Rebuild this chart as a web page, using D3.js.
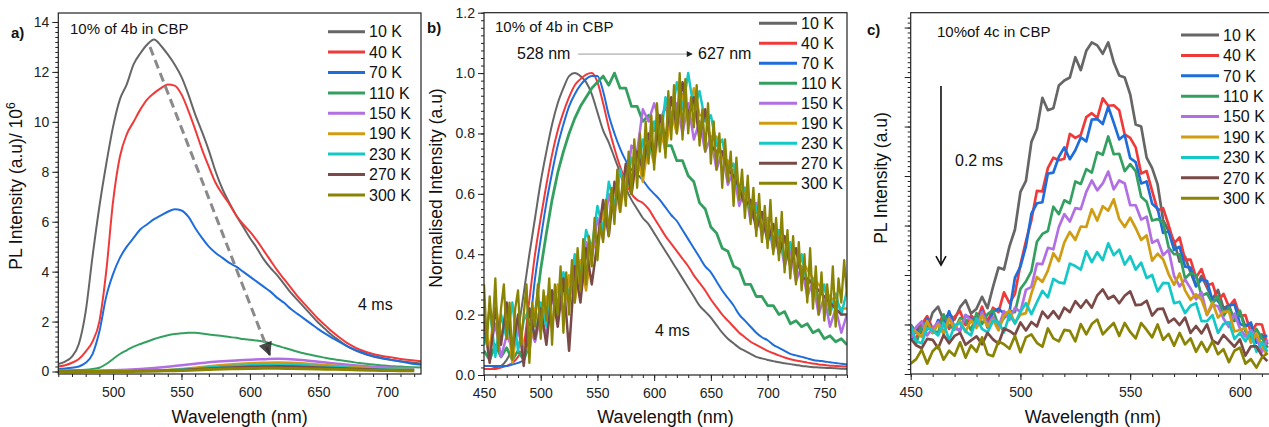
<!DOCTYPE html>
<html>
<head>
<meta charset="utf-8">
<script src="https://cdn.jsdelivr.net/npm/d3@7"></script>
<style>
  body { margin: 0; background: #fff; }
  svg { font-family: "Liberation Sans", Arial, sans-serif; }
</style>
</head>
<body>
<svg id="fig" width="1269" height="427"></svg>
<script>
// legend / series names and colours (same for every panel)
const temps = ["10 K", "40 K", "70 K", "110 K", "150 K", "190 K", "230 K", "270 K", "300 K"];
const colors = ["#666666", "#f03a3a", "#1f6ddb", "#34a060", "#b26ee3", "#d09c12", "#14c8c8", "#7a4a48", "#8a8405"];

// ---- panel a : 10% of 4b in CBP, PL intensity / 1e6 ----
const wlA = [460,465,470,475,480,485,490,495,500,505,510,515,520,525,530,535,540,545,550,555,
  560,565,570,575,580,585,590,595,600,605,610,615,620,625,630,635,640,645,650,655,
  660,665,670,675,680,685,690,695,700,705,710,715,720,725];
const wlA10 = [460,470,480,490,500,510,520,530,540,550,560,570,580,590,600,610,620,630,640,650,
  660,670,680,690,700,710,720];
const a10 = [.3,.4,.6,1.1,2.4,4.6,6.6,8.3,9.8,10.9,
  11.5,12.3,12.75,13.1,13.3,13.05,12.7,12.3,11.8,11.1,
  10.3,9.6,8.85,8.0,7.3,6.75,6.25,5.8,5.35,4.95,
  4.5,4.15,3.85,3.5,3.15,2.85,2.55,2.25,1.95,1.7,
  1.45,1.25,1.05,.9,.78,.68,.6,.54,.49,.45,
  .41,.38,.35,.32];
const a40 = [.2,.25,.35,.5,.8,1.2,2.0,4.0,6.8,8.6,
  9.5,10.0,10.5,10.9,11.15,11.35,11.5,11.45,11.1,10.45,
  9.7,8.9,8.2,7.55,7.1,6.7,6.25,5.9,5.6,5.25,
  4.85,4.45,4.05,3.7,3.35,3.0,2.7,2.4,2.1,1.85,
  1.6,1.38,1.18,1.02,.88,.78,.7,.64,.59,.55,
  .5,.47,.44,.41];
const a70 = [.1,.12,.15,.2,.35,.7,1.6,3.0,3.9,4.55,
  5.0,5.35,5.7,5.9,6.1,6.25,6.4,6.5,6.45,6.2,
  5.75,5.35,5.0,4.75,4.55,4.35,4.2,4.0,3.8,3.6,
  3.4,3.2,2.95,2.75,2.5,2.3,2.1,1.9,1.7,1.52,
  1.35,1.2,1.05,.92,.8,.7,.62,.56,.5,.45,
  .4,.35,.3,.27];
const a110 = [.05,.05,.05,.06,.07,.1,.15,.3,.5,.7,
  .85,1.0,1.1,1.2,1.3,1.38,1.45,1.5,1.53,1.55,
  1.55,1.52,1.48,1.45,1.42,1.38,1.35,1.3,1.27,1.24,
  1.2,1.12,1.03,.95,.87,.79,.72,.66,.6,.55,
  .5,.46,.42,.38,.34,.31,.28,.25,.23,.21,
  .2,.18,.17,.16];
const a150 = [.02,.03,.02,.04,.05,.07,.1,.14,.19,.25,.31,.37,.41,.44,.47,.49,.51,.49,.45,.39,.33,.28,.23,.19,.16,.14,.12];
const a190 = [0,.01,0,.01,.02,.02,.03,.04,.06,.1,.15,.21,.26,.3,.33,.35,.36,.35,.32,.28,.24,.2,.16,.13,.1,.08,.07];
const a230 = [0,0,.01,0,.01,.02,.02,.03,.05,.08,.12,.16,.2,.23,.25,.27,.28,.27,.25,.22,.19,.16,.13,.1,.08,.07,.06];
const a270 = [0,0,0,.01,0,.01,.02,.02,.04,.06,.09,.12,.15,.17,.19,.2,.21,.2,.18,.16,.14,.12,.1,.08,.06,.05,.04];
const a300 = [0,-.01,0,0,.01,0,.01,.02,.03,.04,.06,.08,.1,.11,.12,.13,.13,.12,.11,.1,.09,.08,.06,.05,.04,.03,.03];

// ---- panel b : normalised intensity ----
const wlB = [450,455,460,465,470,475,480,485,490,495,500,505,510,515,520,525,530,535,540,545,
  550,555,560,565,570,575,580,585,590,595,600,605,610,615,620,625,630,635,640,645,
  650,655,660,665,670,675,680,685,690,695,700,705,710,715,720,725,730,735,740,745,
  750,755,760,765,770];
const wlB2 = [450,452.5,455,457.5,460,462.5,465,467.5,470,472.5,
  475,477.5,480,482.5,485,487.5,490,492.5,495,497.5,
  500,502.5,505,507.5,510,512.5,515,517.5,520,522.5,
  525,527.5,530,532.5,535,537.5,540,542.5,545,547.5,
  550,552.5,555,557.5,560,562.5,565,567.5,570,572.5,
  575,577.5,580,582.5,585,587.5,590,592.5,595,597.5,
  600,602.5,605,607.5,610,612.5,615,617.5,620,622.5,
  625,627.5,630,632.5,635,637.5,640,642.5,645,647.5,
  650,652.5,655,657.5,660,662.5,665,667.5,670,672.5,
  675,677.5,680,682.5,685,687.5,690,692.5,695,697.5,
  700,702.5,705,707.5,710,712.5,715,717.5,720,722.5,
  725,727.5,730,732.5,735,737.5,740,742.5,745,747.5,
  750,752.5,755,757.5,760,762.5,765,767.5,770];
const b10 = [.02,.02,.025,.03,.05,.09,.15,.27,.4,.52,
  .64,.74,.83,.9,.95,.99,1.0,.99,.97,.93,
  .87,.81,.77,.72,.67,.62,.58,.55,.52,.5,
  .47,.44,.41,.38,.35,.32,.29,.26,.23,.21,
  .19,.165,.14,.12,.105,.09,.08,.07,.06,.055,
  .05,.046,.042,.039,.036,.033,.03,.028,.026,.025,
  .024,.023,.022,.021,.02];
const b40 = [.02,.02,.02,.025,.03,.04,.06,.1,.25,.4,
  .52,.63,.73,.81,.87,.92,.96,.98,.995,1.0,
  .97,.9,.82,.75,.69,.64,.6,.58,.57,.55,
  .52,.49,.46,.435,.41,.385,.36,.33,.305,.28,
  .25,.225,.2,.18,.16,.14,.125,.11,.1,.09,
  .08,.072,.065,.058,.052,.048,.045,.041,.038,.035,
  .033,.031,.03,.029,.028];
const b70 = [.03,.03,.03,.03,.03,.035,.04,.05,.15,.32,
  .45,.57,.67,.76,.83,.89,.93,.96,.98,.99,
  .99,.94,.86,.8,.75,.71,.68,.665,.645,.62,
  .6,.58,.555,.53,.51,.48,.45,.42,.39,.36,
  .34,.31,.28,.255,.23,.2,.18,.16,.14,.125,
  .115,.1,.09,.08,.07,.065,.06,.055,.05,.047,
  .045,.042,.04,.037,.035];
const b110 = [.08,.05,.1,.06,.09,.05,.08,.05,.1,.2,
  .35,.47,.58,.67,.74,.8,.85,.89,.92,.95,
  .97,.99,.96,1.0,.95,.95,.89,.89,.84,.86,
  .81,.81,.76,.76,.71,.71,.66,.64,.57,.55,
  .49,.47,.42,.41,.36,.35,.3,.3,.26,.26,
  .23,.23,.2,.21,.17,.18,.16,.17,.14,.15,
  .12,.13,.11,.12,.1];
const b150 = [.14,.08,.17,.06,.13,.09,.15,.07,.16,.11,
  .2,.13,.26,.18,.32,.25,.38,.31,.44,.38,
  .52,.45,.6,.53,.68,.61,.76,.74,.88,.84,
  .9,.84,.89,.82,.9,.8,.9,.78,.84,.74,
  .79,.68,.74,.63,.68,.56,.62,.51,.57,.46,
  .52,.41,.47,.36,.42,.31,.36,.26,.31,.2,
  .26,.16,.22,.14,.2];
const b190 = [.2,.08,.24,.12,.22,.04,.18,.1,.08,.22,
  .14,.26,.16,.3,.2,.33,.24,.38,.28,.43,
  .42,.55,.48,.63,.54,.67,.6,.73,.64,.77,
  .7,.83,.74,.87,.8,.93,.84,.95,.86,.86,
  .78,.79,.72,.71,.64,.63,.6,.57,.54,.52,
  .5,.48,.46,.44,.42,.4,.38,.35,.32,.3,
  .28,.26,.24,.22,.22];
const b230 = [.1,.22,.06,.2,.12,.24,.08,.18,.22,.12,
  .24,.16,.28,.2,.34,.26,.4,.32,.48,.42,
  .56,.48,.64,.56,.68,.6,.72,.66,.78,.72,
  .84,.76,.92,.84,.97,.88,1.0,.88,.94,.84,
  .86,.76,.78,.68,.7,.6,.62,.54,.56,.48,
  .5,.43,.48,.38,.44,.34,.4,.3,.32,.25,
  .3,.2,.27,.2,.28];
const b270 = [.18,.04,.22,.1,.24,.08,.2,.03,.22,.12,
  .22,.1,.28,.16,.32,.08,.36,.24,.42,.3,
  .44,.58,.46,.64,.56,.7,.6,.74,.68,.8,
  .72,.86,.78,.92,.82,.97,.86,.92,.78,.88,
  .76,.74,.74,.68,.66,.62,.56,.58,.48,.54,
  .44,.5,.4,.46,.36,.42,.32,.32,.3,.28,
  .26,.24,.22,.2,.2];
const b300 = [.3,.1,.26,.14,.32,.08,.22,.3,.12,.24,
  .05,.22,.28,.1,.2,.3,.04,.24,.16,.3,
  .12,.28,.18,.32,.1,.3,.2,.36,.14,.34,
  .2,.38,.24,.42,.28,.45,.3,.46,.36,.52,
  .38,.5,.44,.58,.46,.62,.5,.68,.54,.66,
  .56,.74,.6,.78,.62,.8,.66,.84,.7,.86,
  .68,.9,.74,.86,.72,.94,.78,.96,.8,1.0,
  .78,.98,.8,.92,.82,.96,.76,.88,.74,.9,
  .7,.84,.68,.8,.62,.78,.64,.74,.56,.72,
  .58,.68,.52,.66,.5,.62,.46,.6,.44,.56,
  .42,.58,.4,.52,.38,.54,.34,.48,.32,.46,
  .3,.44,.28,.4,.24,.42,.22,.36,.2,.34,
  .18,.3,.2,.36,.16,.32,.24,.38,.26];

// ---- panel c : 10% of 4c in CBP, PL intensity (a.u) ----
const wlC = [450,452.5,455,457.5,460,462.5,465,467.5,470,472.5,
  475,477.5,480,482.5,485,487.5,490,492.5,495,497.5,
  500,502.5,505,507.5,510,512.5,515,517.5,520,522.5,
  525,527.5,530,532.5,535,537.5,540,542.5,545,547.5,
  550,552.5,555,557.5,560,562.5,565,567.5,570,572.5,
  575,577.5,580,582.5,585,587.5,590,592.5,595,597.5,
  600,602.5,605,607.5,610,612.5];
const c10 = [1.0,.84,1.05,.9,1.24,1.36,1.08,1.22,1.1,1.35,
  1.49,1.22,1.32,1.56,1.33,1.76,2.15,2.11,2.58,2.92,
  3.68,3.9,4.69,4.95,5.58,5.33,5.37,5.83,5.93,5.99,
  6.4,6.14,6.53,6.7,6.64,6.47,6.7,6.3,6.03,5.99,
  5.65,5.04,5.0,4.37,4.16,3.83,3.11,2.89,2.68,2.27,
  2.37,2.05,1.78,1.98,1.75,1.51,1.7,1.33,1.39,1.07,
  1.26,.96,1.01,.67,.8,.53];
const c40 = [.8,.71,1.0,1.17,.91,1.0,1.2,.91,1.16,1.27,
  .99,1.18,1.08,1.36,1.05,1.34,1.25,1.65,1.43,1.62,
  2.21,2.68,3.11,3.7,3.69,4.16,4.37,4.32,4.35,4.85,
  4.77,4.83,5.19,5.27,5.17,5.57,5.42,5.43,5.33,4.84,
  4.77,4.58,4.05,4.1,3.7,3.31,3.35,3.01,2.64,2.76,
  2.31,2.31,1.95,2.12,1.79,1.83,1.47,1.62,1.36,1.5,
  1.17,1.19,.84,1.01,1.0,.6];
const c70 = [.68,.89,.82,1.12,.83,1.09,.97,1.27,.93,.88,
  1.19,1.12,1.01,1.27,.94,1.26,1.32,1.22,1.25,1.95,
  2.17,2.58,3.24,3.45,3.47,4.05,4.07,4.39,4.58,4.34,
  4.52,4.78,4.7,5.14,5.15,5.05,5.4,5.08,4.74,4.83,
  4.36,4.28,3.85,3.89,3.44,3.34,2.85,2.88,2.51,2.57,
  2.17,2.15,1.77,1.91,1.88,1.48,1.5,1.25,1.38,1.41,
  1.01,.97,1.04,.63,.76,.77];
const c110 = [.93,.62,.96,1.04,.89,.83,1.2,.98,.9,1.13,
  1.1,.88,1.23,1.01,1.21,1.29,.98,1.13,1.28,1.25,
  1.72,1.87,2.08,2.67,2.83,2.89,3.38,3.23,3.51,3.45,
  3.89,3.84,4.14,4.07,4.48,4.43,4.8,4.44,4.45,4.1,
  4.24,4.1,3.58,3.48,3.1,3.13,3.06,2.56,2.42,2.42,
  1.93,2.04,2.0,1.58,1.63,1.42,1.58,1.17,1.34,1.1,
  1.28,.86,.72,.91,.73,.53];
const c150 = [.72,.95,1.06,.78,.92,1.05,.85,1.13,.97,.86,
  1.19,1.08,.95,1.25,.99,1.15,.95,1.27,1.09,1.34,
  1.25,1.7,1.76,2.23,2.22,2.55,2.52,2.97,3.23,3.08,
  3.35,3.33,3.68,3.91,3.71,3.85,4.09,3.73,3.91,3.85,
  3.41,3.41,3.12,3.18,2.65,2.71,2.4,2.51,1.98,1.77,
  1.91,1.73,1.51,1.65,1.19,1.4,1.37,1.12,.95,1.22,
  .92,.76,.89,.75,.44,.7];
const c190 = [.93,.85,.75,1.07,.83,1.0,.81,1.11,.92,1.08,
  .85,1.09,.93,1.18,.96,1.1,.88,1.17,1.28,1.03,
  1.2,1.23,1.63,1.96,1.86,2.09,2.44,2.28,2.66,2.87,
  2.71,2.98,2.97,3.33,3.1,3.39,3.3,3.53,3.13,2.97,
  3.16,2.95,2.71,2.8,2.29,2.43,2.32,2.02,1.8,2.03,
  1.69,1.5,1.61,1.5,1.2,1.45,1.14,1.26,1.26,.86,
  .89,.93,.63,.82,.57,.38];
const c230 = [.98,.66,.62,.93,.88,.78,1.03,.68,.98,1.03,
  .86,.78,1.12,.91,.84,1.07,1.05,.84,1.2,1.02,
  1.26,1.43,1.21,1.45,1.68,1.55,1.92,1.85,1.83,2.23,
  2.18,2.11,2.48,2.26,2.46,2.3,2.64,2.4,2.51,2.21,
  2.38,2.11,2.25,1.94,2.0,1.67,1.84,1.83,1.43,1.46,
  1.23,1.38,1.43,1.07,1.07,1.19,.83,1.01,1.05,.71,
  .83,.66,.85,.45,.64,.45];
const c270 = [.71,.58,.52,.71,.69,.52,.79,.62,.77,.83,
  .59,.68,.76,.6,.83,.7,.61,.92,.87,.79,
  1.04,.88,1.05,.96,1.26,1.13,1.27,1.12,1.34,1.25,
  1.47,1.34,1.49,1.34,1.59,1.71,1.52,1.58,1.43,1.58,
  1.67,1.39,1.4,1.48,1.18,1.31,1.32,1.04,1.12,.99,
  1.14,.83,.97,.82,1.0,.68,.61,.79,.67,.55,
  .7,.37,.56,.56,.37,.26];
const c300 = [.21,.3,.49,.21,.46,.57,.29,.47,.37,.64,
  .33,.58,.45,.74,.4,.36,.66,.6,.51,.77,
  .44,.74,.8,.63,.55,.92,.72,.66,.89,.87,
  .66,1.01,.8,1.01,1.1,.8,.92,1.03,.77,1.03,
  .85,.72,1.03,.89,.74,1.0,.69,.81,.57,.83,
  .6,.72,.45,.65,.45,.66,.4,.5,.24,.47,
  .53,.21,.3,.13,.33,.43];

const svg = d3.select("#fig");
const defs = svg.append("defs");

defs.append("marker").attr("id", "headA")
  .attr("viewBox", "0 0 10 10").attr("refX", 9).attr("refY", 5)
  .attr("markerUnits", "userSpaceOnUse").attr("markerWidth", 16).attr("markerHeight", 14)
  .attr("orient", "auto")
  .append("path").attr("d", "M0,0 L10,5 L0,10 z").attr("fill", "#2a2a2a").attr("opacity", 0.85);
defs.append("marker").attr("id", "headB")
  .attr("viewBox", "0 0 10 10").attr("refX", 9).attr("refY", 5)
  .attr("markerUnits", "userSpaceOnUse").attr("markerWidth", 9).attr("markerHeight", 6)
  .attr("orient", "auto")
  .append("path").attr("d", "M0,0 L10,5 L0,10 z").attr("fill", "#222");

function drawPanel(p) {
  const x = d3.scaleLinear().domain(p.xDomain).range([p.left, p.right]);
  const y = d3.scaleLinear().domain(p.yDomain).range([p.bottom, p.top]);
  const g = svg.append("g");

  defs.append("clipPath").attr("id", "clip-" + p.id)
    .append("rect")
    .attr("x", p.left).attr("y", p.top)
    .attr("width", p.right - p.left).attr("height", p.bottom - p.top);

  const plot = g.append("g").attr("clip-path", `url(#clip-${p.id})`);
  p.series.forEach((s, i) => {
    const line = d3.line()
      .x(d => x(d[0])).y(d => y(d[1]))
      .curve(s.smooth ? d3.curveMonotoneX : d3.curveLinear);
    plot.append("path")
      .datum(d3.zip(s.wl, s.vals))
      .attr("d", line)
      .attr("fill", "none")
      .attr("stroke", colors[i])
      .attr("stroke-width", s.w || p.lineWidth)
      .attr("stroke-linejoin", "round");
  });

  // axes (ticks outward), frame drawn as a rect
  const styleAxis = a => {
    a.select(".domain").remove();
    a.selectAll("line").attr("stroke", "#222");
    a.selectAll("text").attr("font-size", 14).attr("fill", "#222")
      .attr("font-family", "Liberation Sans, Arial, sans-serif");
  };
  g.append("g").attr("transform", `translate(0,${p.bottom})`)
    .call(d3.axisBottom(x).tickValues(p.xMinor).tickSize(3).tickFormat(""))
    .call(styleAxis);
  g.append("g").attr("transform", `translate(0,${p.bottom})`)
    .call(d3.axisBottom(x).tickValues(p.xMajor).tickSize(6).tickPadding(7).tickFormat(d3.format("d")))
    .call(styleAxis);
  g.append("g").attr("transform", `translate(${p.left},0)`)
    .call(d3.axisLeft(y).tickValues(p.yMinor).tickSize(3).tickFormat(""))
    .call(styleAxis);
  g.append("g").attr("transform", `translate(${p.left},0)`)
    .call(d3.axisLeft(y).tickValues(p.yMajor).tickSize(6).tickPadding(3)
      .tickFormat(p.yFormat ? d3.format(p.yFormat) : ""))
    .call(styleAxis);

  g.append("rect")
    .attr("x", p.left).attr("y", p.top)
    .attr("width", p.right - p.left).attr("height", p.bottom - p.top)
    .attr("fill", "none").attr("stroke", "#222").attr("stroke-width", 1.2);

  // axis titles
  g.append("text")
    .attr("x", (p.left + Math.min(p.right, 1269)) / 2 + (p.xTitleShift || 0)).attr("y", 423)
    .attr("text-anchor", "middle").attr("font-size", 18).attr("fill", "#111")
    .text("Wavelength (nm)");
  const yt = g.append("text")
    .attr("transform", `translate(${p.yTitleX},${p.yTitleY}) rotate(-90)`)
    .attr("text-anchor", "middle").attr("font-size", 17.5).attr("fill", "#111");
  yt.append("tspan").text(p.yTitle);
  if (p.yTitleSup) {
    yt.append("tspan").attr("dy", -7).attr("font-size", 12).text(p.yTitleSup);
  }

  // panel letter and sample text
  g.append("text").attr("x", p.letterX).attr("y", p.letterY)
    .attr("font-size", 15).attr("font-weight", "bold").attr("fill", "#111").text(p.letter);
  g.append("text").attr("x", p.sampleX).attr("y", p.sampleY)
    .attr("font-size", 15).attr("fill", "#111").text(p.sample);

  // legend
  const lg = g.append("g");
  temps.forEach((t, i) => {
    const ly = p.legendY + i * p.legendDy;
    lg.append("line")
      .attr("x1", p.legendX1).attr("x2", p.legendX2)
      .attr("y1", ly).attr("y2", ly)
      .attr("stroke", colors[i]).attr("stroke-width", 3);
    lg.append("text")
      .attr("x", p.legendX2 + 4).attr("y", ly).attr("dy", "0.36em")
      .attr("font-size", 16).attr("fill", "#111").text(t);
  });

  return { g, x, y };
}

// ---- panel a ----
const A = drawPanel({
  id: "a", left: 58.3, right: 421, top: 13, bottom: 374,
  xDomain: [460, 725], yDomain: [-0.1, 14.36],
  xMajor: [500, 550, 600, 650, 700], xMinor: d3.range(460, 726, 10),
  yMajor: [0, 2, 4, 6, 8, 10, 12, 14], yMinor: d3.range(0, 71).map(i => i * 0.2), yFormat: "d",
  lineWidth: 2,
  series: [
    { wl: wlA, vals: a10, smooth: true },
    { wl: wlA, vals: a40, smooth: true },
    { wl: wlA, vals: a70, smooth: true },
    { wl: wlA, vals: a110, smooth: true },
    { wl: wlA10, vals: a150, smooth: true, w: 2.5 },
    { wl: wlA10, vals: a190, smooth: true, w: 2.5 },
    { wl: wlA10, vals: a230, smooth: true, w: 2.5 },
    { wl: wlA10, vals: a270, smooth: true, w: 2.5 },
    { wl: wlA10, vals: a300, smooth: true, w: 3 }
  ],
  yTitle: "PL Intensity (a.u)/ 10", yTitleSup: "6", yTitleX: 22, yTitleY: 186,
  letter: "a)", letterX: 11, letterY: 38,
  sample: "10% of 4b in CBP", sampleX: 70, sampleY: 34,
  legendX1: 328, legendX2: 365, legendY: 31.7, legendDy: 20.4
});
A.g.append("line")
  .attr("x1", A.x(527)).attr("y1", A.y(13.0))
  .attr("x2", A.x(614.5)).attr("y2", A.y(0.66))
  .attr("stroke", "#8a8a8a").attr("stroke-width", 3)
  .attr("stroke-dasharray", "9,5")
  .attr("marker-end", "url(#headA)");
A.g.append("text").attr("x", 358).attr("y", 310)
  .attr("font-size", 16).attr("fill", "#111").text("4 ms");

// ---- panel b ----
const B = drawPanel({
  id: "b", left: 484, right: 847, top: 12.7, bottom: 375,
  xDomain: [450, 770], yDomain: [0, 1.2],
  xMajor: [450, 500, 550, 600, 650, 700, 750], xMinor: d3.range(450, 771, 10),
  yMajor: [0, 0.2, 0.4, 0.6, 0.8, 1.0, 1.2], yMinor: d3.range(0, 49).map(i => i * 0.025), yFormat: ".1f",
  lineWidth: 2.5,
  series: [
    { wl: wlB, vals: b10, smooth: true, w: 2 },
    { wl: wlB, vals: b40, smooth: true, w: 2 },
    { wl: wlB, vals: b70, smooth: true, w: 2 },
    { wl: wlB, vals: b110, w: 2.8 },
    { wl: wlB, vals: b150 },
    { wl: wlB, vals: b190 },
    { wl: wlB, vals: b230 },
    { wl: wlB, vals: b270 },
    { wl: wlB2, vals: b300, w: 2.3 }
  ],
  yTitle: "Normalised Intensity (a.u)", yTitleX: 442, yTitleY: 188,
  letter: "b)", letterX: 427, letterY: 33,
  sample: "10% of 4b in CBP", sampleX: 495, sampleY: 32,
  legendX1: 759, legendX2: 797, legendY: 23.3, legendDy: 20
});
B.g.append("line")
  .attr("x1", B.x(533)).attr("x2", B.x(633.5))
  .attr("y1", B.y(1.063)).attr("y2", B.y(1.063))
  .attr("stroke", "#9a9a9a").attr("stroke-width", 1)
  .attr("marker-end", "url(#headB)");
B.g.append("text").attr("x", 517).attr("y", 59).attr("font-size", 16).attr("fill", "#111").text("528 nm");
B.g.append("text").attr("x", 698).attr("y", 59).attr("font-size", 16).attr("fill", "#111").text("627 nm");
B.g.append("text").attr("x", 655).attr("y", 336).attr("font-size", 16).attr("fill", "#111").text("4 ms");

// ---- panel c ----
const C = drawPanel({
  id: "c", left: 910.7, right: 1270, top: 12.7, bottom: 374,
  xDomain: [450, 613.7], yDomain: [0, 7.3],
  xMajor: [450, 500, 550, 600], xMinor: d3.range(450, 614, 10),
  yMajor: [0, 1, 2, 3, 4, 5, 6, 7], yMinor: d3.range(0, 73).map(i => i * 0.1), yFormat: null,
  lineWidth: 2.7,
  series: [
    { wl: wlC, vals: c10 },
    { wl: wlC, vals: c40 },
    { wl: wlC, vals: c70 },
    { wl: wlC, vals: c110 },
    { wl: wlC, vals: c150 },
    { wl: wlC, vals: c190 },
    { wl: wlC, vals: c230 },
    { wl: wlC, vals: c270 },
    { wl: wlC, vals: c300 }
  ],
  yTitle: "PL Intensity (a.u)", yTitleX: 887, yTitleY: 178, xTitleShift: 3,
  letter: "c)", letterX: 867, letterY: 35,
  sample: "10%of 4c in CBP", sampleX: 937, sampleY: 37,
  legendX1: 1181, legendX2: 1219, legendY: 35, legendDy: 20.4
});
C.g.append("line")
  .attr("x1", C.x(463.8)).attr("x2", C.x(463.8))
  .attr("y1", C.y(5.82)).attr("y2", C.y(2.2))
  .attr("stroke", "#111").attr("stroke-width", 1.6);
C.g.append("path")
  .attr("d", `M${C.x(463.8) - 5},${C.y(2.2) - 9} L${C.x(463.8)},${C.y(2.2)} L${C.x(463.8) + 5},${C.y(2.2) - 9}`)
  .attr("fill", "none").attr("stroke", "#111").attr("stroke-width", 1.6);
C.g.append("text").attr("x", 955).attr("y", 166).attr("font-size", 16).attr("fill", "#111").text("0.2 ms");
</script>
</body>
</html>
